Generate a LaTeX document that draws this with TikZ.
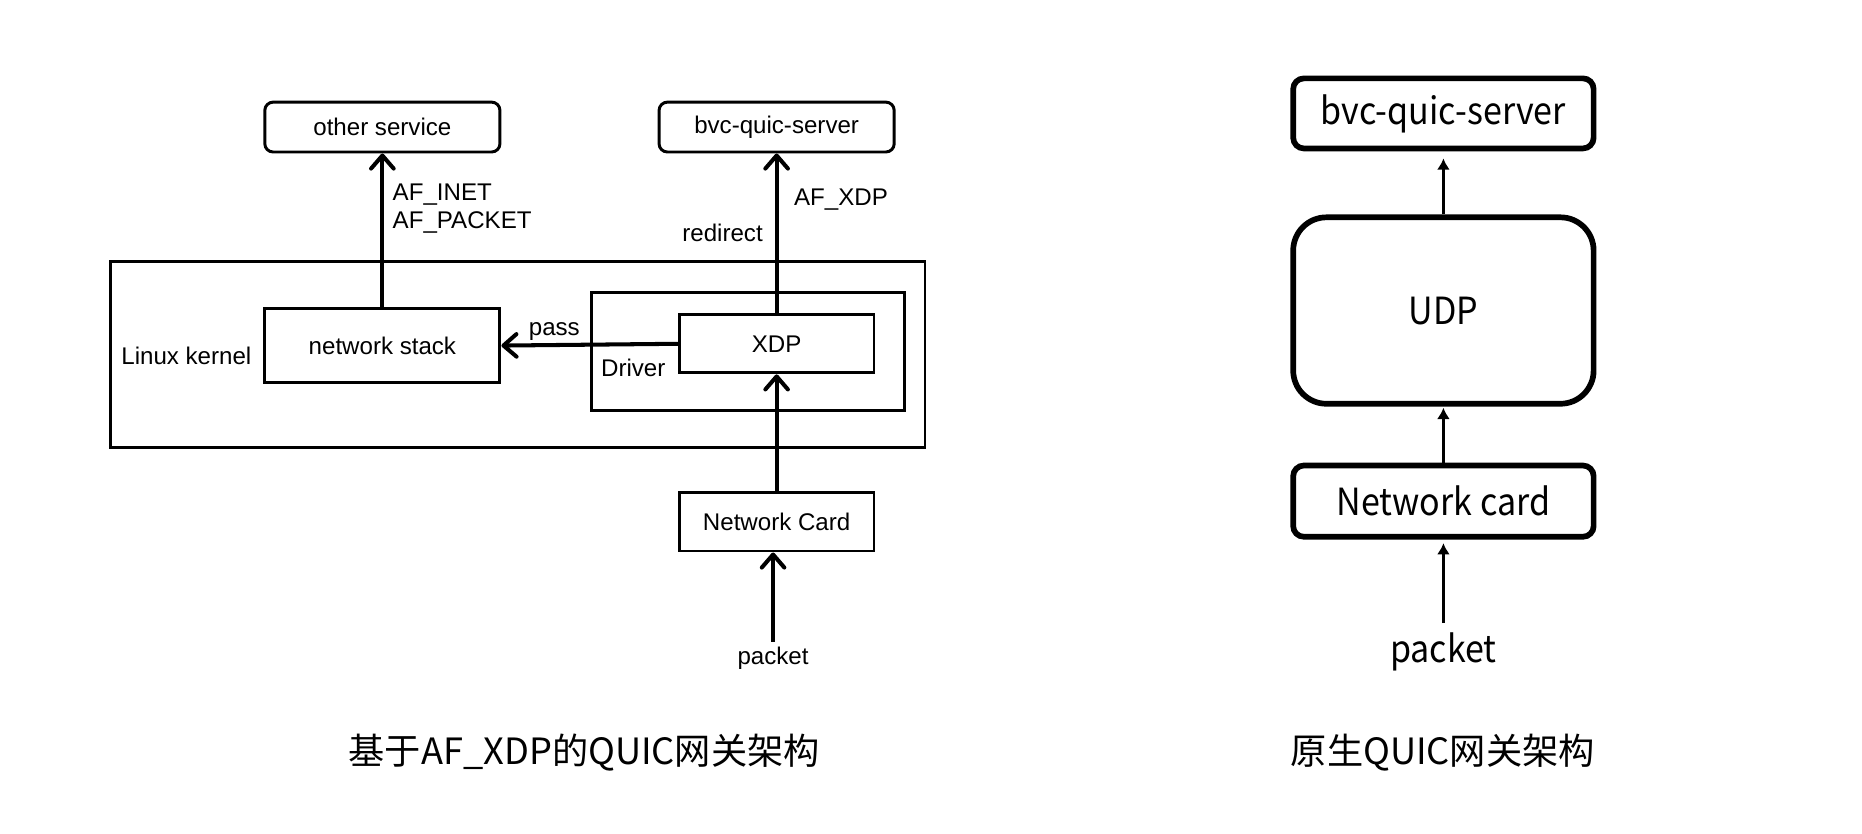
\documentclass[tikz,border=0pt]{standalone}
\usepackage{fontspec}
\setmainfont{Liberation Sans}
\newfontfamily\cjk{Noto Sans CJK SC}
\newfontfamily\cjknarrow[FakeStretch=0.91]{Noto Sans CJK SC}
\usetikzlibrary{arrows,arrows.meta,shapes,calc,positioning,fit}

\tikzset{
  svc/.style={draw, line width=2.5pt, rounded corners=7pt, minimum width=198pt, minimum height=42pt, font=\fontsize{20.3}{24}\selectfont},
  blk/.style={draw, line width=2.5pt, minimum width=164pt, minimum height=49pt, font=\fontsize{20.3}{24}\selectfont},
  lbl/.style={inner sep=2pt, font=\fontsize{20.3}{24}\selectfont},
  fat/.style={-{Straight Barb[length=11pt, width=19pt, round]}, line width=3.4pt},
  rbox/.style={draw, line width=4.8pt, rounded corners=9pt, minimum width=253pt, font=\cjknarrow\fontsize{31.5}{36}\selectfont},
  rlbl/.style={font=\cjknarrow\fontsize{31.5}{36}\selectfont},
  slim/.style={-{Latex[length=9.5pt, width=11pt]}, line width=2.2pt},
  caption/.style={font=\cjk\fontsize{30.5}{36}\selectfont}
}

\begin{document}
\begin{tikzpicture}[x=1pt, y=-1pt]
    \useasboundingbox (0,0) rectangle (1568,702);

    % AF_XDP gateway
    \node[blk, line width=2.2pt, minimum width=686pt, minimum height=157pt] (kernel) at (436,298.5) {};
    \node[lbl, anchor=west] (kname) at (100,300) {Linux kernel};
    \node[blk, minimum width=264pt, minimum height=100pt] (driver) at (630,296) {};
    \node[lbl, anchor=west] (dname) at (504,310) {Driver};

    \node[svc] (other) at (322,107) {other service};
    \node[svc] (server) at (654,107) {bvc-quic-server};
    \node[blk, minimum width=198pt, minimum height=62pt] (stack) at (322,291) {network stack};
    \node[blk] (xdp) at (654,289.5) {XDP};
    \node[blk] (card) at (654,439.5) {Network Card};
    \node[lbl, inner sep=4pt] (pkt) at (651,554) {packet};

    \draw[fat] (stack.north) to node[lbl, right, align=left, pos=0.64, xshift=5pt] {AF\_INET\\AF\_PACKET} (other.south);
    \draw[fat] (xdp.north) to node[lbl, right, pos=0.71, xshift=11pt] {AF\_XDP} node[lbl, left, pos=0.5, xshift=-8pt] {redirect} (server.south);
    \draw[fat] (xdp.west) to node[lbl, above, pos=0.7] {pass} (stack.east);
    \draw[fat] (card.north) to (xdp.south);
    \draw[fat] (pkt.north) to (pkt.north |- card.south);

    \node[caption] (capl) at (492,634) {基于AF\_XDP的QUIC网关架构};

    % native gateway
    \node[rbox, minimum height=59pt] (rserver) at (1215.5,95.5) {bvc-quic-server};
    \node[rbox, minimum height=157pt, rounded corners=28pt] (udp) at (1215.5,261.5) {UDP};
    \node[rbox, minimum height=60pt] (nic) at (1215.5,422) {Network card};
    \node[rlbl, inner sep=8pt] (rpkt) at (1215.5,549) {packet};

    \draw[slim, shorten >=6pt] (udp.north) to (rserver.south);
    \draw[slim, shorten >=1pt] (nic.north) to (udp.south);
    \draw[slim, shorten >=3pt] (rpkt.north) to (nic.south);

    \node[caption] (capr) at (1215,634) {原生QUIC网关架构};
\end{tikzpicture}
\end{document}
